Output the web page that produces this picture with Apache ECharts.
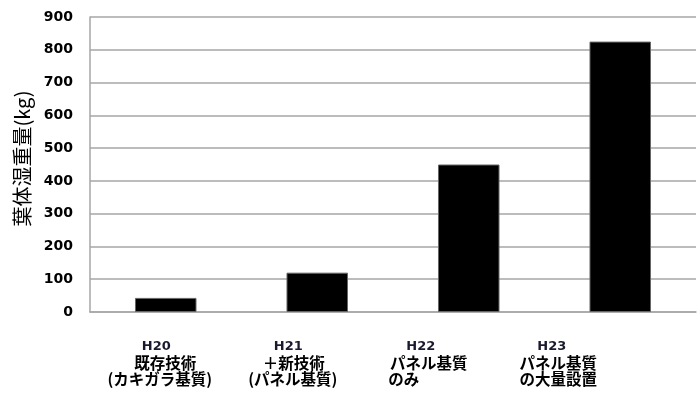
<!DOCTYPE html>
<html>
<head>
<meta charset="utf-8">
<script src="https://cdn.jsdelivr.net/npm/echarts@6/dist/echarts.min.js"></script>
<style>
  html, body { margin: 0; padding: 0; background: #fff; }
  #chart { width: 697px; height: 394px; }
</style>
</head>
<body>
<div id="chart"></div>
<script>
// Seaweed wet weight per year / substrate method
const years = ['H20', 'H21', 'H22', 'H23'];
const methodLine1 = ['既存技術', '＋新技術', 'パネル基質', 'パネル基質'];
const methodLine2 = ['(カキガラ基質)', '(パネル基質)', 'のみ', 'の大量設置'];
const wetWeight = [43, 120, 450, 825];
const yTicks = { min: 0, max: 900, interval: 100 };
const yAxisTitle = '葉体湿重量(kg)';

// Horizontal nudge (px) of each label line relative to its bar centre
const lineNudge = [
  [-9.5, -0.5, -6],
  [-29, -23.5, -24.5],
  [-48, -40, -65],
  [-68.5, -62, -62]
];

const rich = {};
years.forEach((_, i) => {
  lineNudge[i].forEach((dx, j) => {
    const latin = j === 0;
    rich['l' + i + '_' + j] = {
      fontFamily: latin ? 'DejaVu Sans' : '"Noto Sans CJK JP"',
      fontWeight: 'bold',
      fontSize: latin ? 13 : 15.5,
      lineHeight: 16.5,
      color: latin ? '#1a1a2e' : '#000',
      padding: [0, Math.max(0, -2 * dx), 0, Math.max(0, 2 * dx)]
    };
  });
});

const chart = echarts.init(document.getElementById('chart'));
chart.setOption({
  animation: false,
  backgroundColor: '#fff',
  grid: { left: 90, right: 1, top: 17, bottom: 82, containLabel: false, outerBoundsMode: 'none' },
  xAxis: {
    type: 'category',
    data: years,
    axisLine: { lineStyle: { color: '#a6a6a6', width: 1.5 } },
    axisTick: { show: false },
    axisLabel: {
      margin: 26,
      interval: 0,
      formatter: (value, idx) => {
        const lines = [years[idx], methodLine1[idx], methodLine2[idx]];
        return lines.map((t, j) => '{l' + idx + '_' + j + '|' + t + '}').join('\n');
      },
      rich: rich
    }
  },
  yAxis: {
    type: 'value',
    min: yTicks.min,
    max: yTicks.max,
    interval: yTicks.interval,
    name: yAxisTitle,
    nameLocation: 'middle',
    nameGap: 57,
    nameTextStyle: {
      fontFamily: '"Noto Sans CJK JP"',
      fontSize: 20,
      color: '#000',
      padding: [0, 0, 0, 12]
    },
    axisLine: { show: true, lineStyle: { color: '#a6a6a6', width: 1.5 } },
    axisTick: { show: false },
    splitLine: { lineStyle: { color: '#a6a6a6', width: 1.5 } },
    axisLabel: {
      margin: 17,
      fontFamily: 'DejaVu Sans',
      fontWeight: 'bold',
      fontSize: 14,
      color: '#000'
    }
  },
  series: [{
    type: 'bar',
    data: wetWeight,
    barWidth: '40.6%',
    itemStyle: { color: '#000', borderColor: '#666', borderWidth: 1 }
  }]
});
</script>
</body>
</html>
